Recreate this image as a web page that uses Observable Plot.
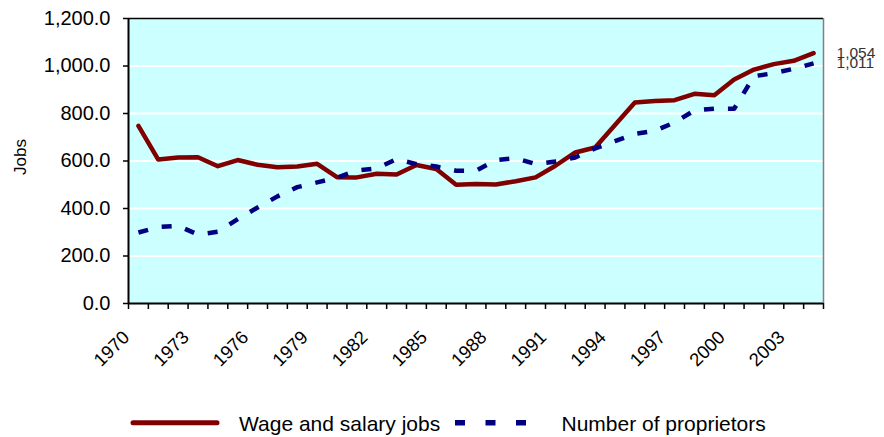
<!DOCTYPE html>
<html>
<head>
<meta charset="utf-8">
<script src="https://cdn.jsdelivr.net/npm/d3@7"></script>
<script src="https://cdn.jsdelivr.net/npm/@observablehq/plot@0.6"></script>
<style>
  body { margin: 0; background: white; }
  #wrap { position: relative; width: 884px; height: 437px; font-family: "Liberation Sans", Arial, sans-serif; }
  #legend { position: absolute; left: 0; top: 400px; }
</style>
</head>
<body>
<div id="wrap"></div>
<script>
const years = [1970, 1971, 1972, 1973, 1974, 1975, 1976, 1977, 1978, 1979,
  1980, 1981, 1982, 1983, 1984, 1985, 1986, 1987, 1988, 1989,
  1990, 1991, 1992, 1993, 1994, 1995, 1996, 1997, 1998, 1999,
  2000, 2001, 2002, 2003, 2004];
const wageJobs = [748, 606, 615, 616, 578, 604, 584, 574, 577, 588,
  532, 531, 546, 543, 583, 566, 500, 503, 501, 515,
  531, 580, 636, 657, 752, 846, 853, 856, 883, 877,
  943, 985, 1008, 1022, 1054];
const proprietors = [299, 322, 327, 290, 302, 355, 404, 451, 490, 510,
  530, 560, 569, 608, 587, 577, 559, 559, 604, 612,
  587, 598, 615, 653, 684, 714, 727, 762, 813, 820,
  820, 957, 970, 988, 1011];
const labelYears = [1970, 1973, 1976, 1979, 1982, 1985, 1988, 1991, 1994, 1997, 2000, 2003];
const yTicks = [0, 200, 400, 600, 800, 1000, 1200];
const seriesNames = ["Wage and salary jobs", "Number of proprietors"];
const seriesColors = ["#800000", "#000080"];

const wageData = years.map((y, i) => ({year: y, value: wageJobs[i]}));
const propData = years.map((y, i) => ({year: y, value: proprietors[i]}));
const boundaries = [years[0] - 0.5, ...years.map(y => y + 0.5)];
const lastLabels = [
  {year: years[years.length - 1], value: wageJobs[wageJobs.length - 1]},
  {year: years[years.length - 1], value: proprietors[proprietors.length - 1]}
];
const xMin = years[0] - 0.5, xMax = years[years.length - 1] + 0.5;

const chart = Plot.plot({
  width: 884,
  height: 400,
  marginLeft: 128,
  marginRight: 61,
  marginTop: 18,
  marginBottom: 97,
  style: {fontFamily: '"Liberation Sans", Arial, sans-serif', background: "white", overflow: "visible", color: "black"},
  x: {domain: [xMin, xMax], axis: null},
  y: {domain: [0, 1200], axis: null},
  marks: [
    Plot.frame({fill: "#CCFFFF", stroke: "none"}),
    Plot.gridY(yTicks.slice(1, -1), {stroke: "white", strokeOpacity: 1, strokeWidth: 2}),
    Plot.ruleY([1200], {stroke: "black", strokeWidth: 1.5}),
    Plot.ruleX([xMax], {stroke: "#808080", strokeWidth: 1.5}),
    Plot.line(wageData, {x: "year", y: "value", stroke: seriesColors[0], strokeWidth: 4.5, strokeLinejoin: "round", strokeLinecap: "round"}),
    Plot.line(propData, {x: "year", y: "value", stroke: seriesColors[1], strokeWidth: 4.5, strokeDasharray: "10,14", strokeLinecap: "butt"}),
    Plot.ruleX([xMin], {stroke: "black", strokeWidth: 2}),
    Plot.ruleY([0], {stroke: "black", strokeWidth: 2}),
    Plot.axisY({ticks: yTicks, tickSize: 5, tickPadding: 13, tickFormat: d3.format(",.1f"), fontSize: 20, stroke: "black", strokeWidth: 1.5, label: null}),
    Plot.axisX({ticks: boundaries, tickSize: 6, tickFormat: () => "", stroke: "black", strokeWidth: 1.5, label: null}),
    Plot.text(labelYears, {x: d => d, text: d => String(d), frameAnchor: "bottom", rotate: -45, textAnchor: "end", lineAnchor: "bottom", dx: -8, dy: 35, fontSize: 18.5, fill: "black"}),
    Plot.text(lastLabels, {x: "year", y: "value", text: d => d3.format(",")(d.value), textAnchor: "start", lineAnchor: "middle", dx: 23, fontSize: 15.5, fill: "#333"}),
    Plot.text(["Jobs"], {text: d => d, frameAnchor: "left", rotate: -90, textAnchor: "middle", lineAnchor: "bottom", dx: -103, dy: -4, fontSize: 17, fill: "black"})
  ]
});

const wrap = document.getElementById("wrap");
wrap.appendChild(chart);

// Legend below the chart
const ns = "http://www.w3.org/2000/svg";
const leg = document.createElementNS(ns, "svg");
leg.setAttribute("id", "legend");
leg.setAttribute("width", 884);
leg.setAttribute("height", 37);
leg.style.fontFamily = '"Liberation Sans", Arial, sans-serif';
const items = [
  {x1: 133, x2: 217, tx: 239, dash: null, cap: "round", w: 5},
  {x1: 455, x2: 526, tx: 561.5, dash: "10,20.5", cap: "butt", w: 5.5}
];
items.forEach((it, i) => {
  const ln = document.createElementNS(ns, "line");
  ln.setAttribute("x1", it.x1); ln.setAttribute("x2", it.x2);
  ln.setAttribute("y1", 22.7); ln.setAttribute("y2", 22.7);
  ln.setAttribute("stroke", seriesColors[i]);
  ln.setAttribute("stroke-width", it.w);
  ln.setAttribute("stroke-linecap", it.cap);
  if (it.dash) ln.setAttribute("stroke-dasharray", it.dash);
  leg.appendChild(ln);
  const t = document.createElementNS(ns, "text");
  t.setAttribute("x", it.tx); t.setAttribute("y", 30.7);
  t.setAttribute("font-size", 21);
  t.setAttribute("fill", "black");
  t.textContent = seriesNames[i];
  leg.appendChild(t);
});
wrap.appendChild(leg);
</script>
</body>
</html>
